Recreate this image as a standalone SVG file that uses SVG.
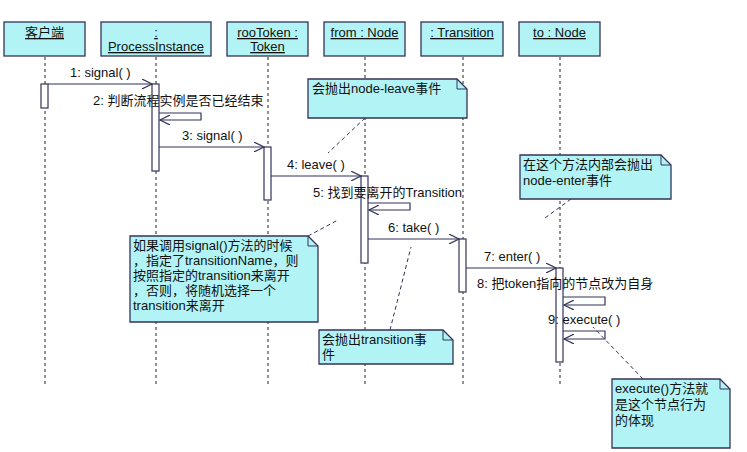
<svg xmlns="http://www.w3.org/2000/svg" width="747" height="452" viewBox="0 0 747 452">
<defs>
<style>
text{font-family:"Liberation Sans","Noto Sans CJK SC",sans-serif;font-size:13px;fill:#111}
.box{fill:#b2f4f6;stroke:#33335a;stroke-width:1.3}
.life{stroke:#222;stroke-width:1;stroke-dasharray:3,3}
.act{fill:#fff;stroke:#33335a;stroke-width:1.2}
.msg{stroke:#33335a;stroke-width:1.2;fill:none}
.dl{stroke:#33335a;stroke-width:1;stroke-dasharray:4,3;fill:none}
.u{text-decoration:underline}
</style>
<marker id="a" markerWidth="12" markerHeight="10" refX="10" refY="5" orient="auto" markerUnits="userSpaceOnUse"><path d="M0,0 L10,5 L0,10" fill="none" stroke="#33335a" stroke-width="1.2"/></marker>
</defs>
<rect width="747" height="452" fill="#fff"/>
<g id="lifelines">
<line class="life" x1="45" y1="57" x2="45" y2="385"/>
<line class="life" x1="156" y1="57" x2="156" y2="385"/>
<line class="life" x1="268" y1="57" x2="268" y2="385"/>
<line class="life" x1="365" y1="57" x2="365" y2="385"/>
<line class="life" x1="463" y1="57" x2="463" y2="385"/>
<line class="life" x1="560" y1="57" x2="560" y2="385"/>
</g>
<g id="client"><rect class="box" x="4" y="22" width="81" height="34"/><text x="44.5" y="37" text-anchor="middle" class="u">客户端</text></g>
<g id="pi"><rect class="box" x="101" y="22" width="110" height="34"/><text x="156" y="37" text-anchor="middle" class="u">:</text><text x="156" y="51" text-anchor="middle" class="u">ProcessInstance</text></g>
<g id="token"><rect class="box" x="227" y="22" width="81" height="34"/><text x="267.5" y="37" text-anchor="middle" class="u">rooToken :</text><text x="267.5" y="51" text-anchor="middle" class="u">Token</text></g>
<g id="from"><rect class="box" x="324" y="22" width="81" height="34"/><text x="364.5" y="37" text-anchor="middle" class="u">from : Node</text></g>
<g id="transition"><rect class="box" x="421" y="22" width="82" height="34"/><text x="462" y="37" text-anchor="middle" class="u">: Transition</text></g>
<g id="to"><rect class="box" x="519" y="22" width="81" height="34"/><text x="559.5" y="37" text-anchor="middle" class="u">to : Node</text></g>
<g id="activations">
<rect class="act" x="41" y="84" width="7" height="24"/>
<rect class="act" x="152" y="84" width="7" height="87"/>
<rect class="act" x="264" y="147" width="7" height="53"/>
<rect class="act" x="361" y="176" width="7" height="87"/>
<rect class="act" x="459" y="239" width="7" height="53"/>
<rect class="act" x="556" y="268" width="7" height="94"/>
</g>
<g id="connectors">
<line class="msg" x1="48" y1="84" x2="152" y2="84" marker-end="url(#a)"/>
<polyline class="msg" points="159,113 201,113 201,120 160,120" marker-end="url(#a)"/>
<line class="msg" x1="159" y1="147" x2="264" y2="147" marker-end="url(#a)"/>
<line class="msg" x1="271" y1="176" x2="361" y2="176" marker-end="url(#a)"/>
<polyline class="msg" points="368,203 410,203 410,210 369,210" marker-end="url(#a)"/>
<line class="msg" x1="368" y1="239" x2="459" y2="239" marker-end="url(#a)"/>
<line class="msg" x1="466" y1="268" x2="556" y2="268" marker-end="url(#a)"/>
<polyline class="msg" points="563,297 605,297 605,305 564,305" marker-end="url(#a)"/>
<polyline class="msg" points="563,331 605,331 605,339 564,339" marker-end="url(#a)"/>
<line class="dl" x1="365" y1="118" x2="328" y2="153"/>
<line class="dl" x1="571" y1="199" x2="545" y2="218"/>
<line class="dl" x1="308" y1="236" x2="338" y2="220"/>
<line class="dl" x1="390" y1="330" x2="411" y2="247"/>
<line class="dl" x1="643" y1="379" x2="593" y2="327"/>
</g>
<g id="labels">
<text x="70" y="77">1: signal( )</text>
<text x="93" y="105">2: 判断流程实例是否已经结束</text>
<text x="182" y="140">3: signal( )</text>
<text x="287" y="169">4: leave( )</text>
<text x="313" y="197">5: 找到要离开的Transition</text>
<text x="388" y="232">6: take( )</text>
<text x="484" y="261">7: enter( )</text>
<text x="477" y="288">8: 把token指向的节点改为自身</text>
<text x="548" y="324">9: execute( )</text>
</g>
<g id="note1"><path class="box" d="M308,79 H457 L467,89 V118 H308 Z"/><path d="M457,79 V89 H467" fill="none" stroke="#33335a"/><text x="312" y="93">会抛出node-leave事件</text></g>
<g id="note2"><path class="box" d="M520,155 H661 L671,165 V199 H520 Z"/><path d="M661,155 V165 H671" fill="none" stroke="#33335a"/><text x="523" y="169">在这个方法内部会抛出</text><text x="523" y="185">node-enter事件</text></g>
<g id="note3"><path class="box" d="M130,236 H308 L318,246 V322 H130 Z"/><path d="M308,236 V246 H318" fill="none" stroke="#33335a"/>
<text x="133" y="250">如果调用signal()方法的时候</text><text x="133" y="265">，指定了transitionName，则</text><text x="133" y="280">按照指定的transition来离开</text><text x="133" y="295">，否则，将随机选择一个</text><text x="133" y="310">transition来离开</text></g>
<g id="note4"><path class="box" d="M319,330 H443 L453,340 V364 H319 Z"/><path d="M443,330 V340 H453" fill="none" stroke="#33335a"/><text x="322" y="344">会抛出transition事</text><text x="322" y="359">件</text></g>
<g id="note5"><path class="box" d="M612,379 H720 L730,389 V448 H612 Z"/><path d="M720,379 V389 H730" fill="none" stroke="#33335a"/><text x="615" y="393">execute()方法就</text><text x="615" y="409">是这个节点行为</text><text x="615" y="425">的体现</text></g>
</svg>
